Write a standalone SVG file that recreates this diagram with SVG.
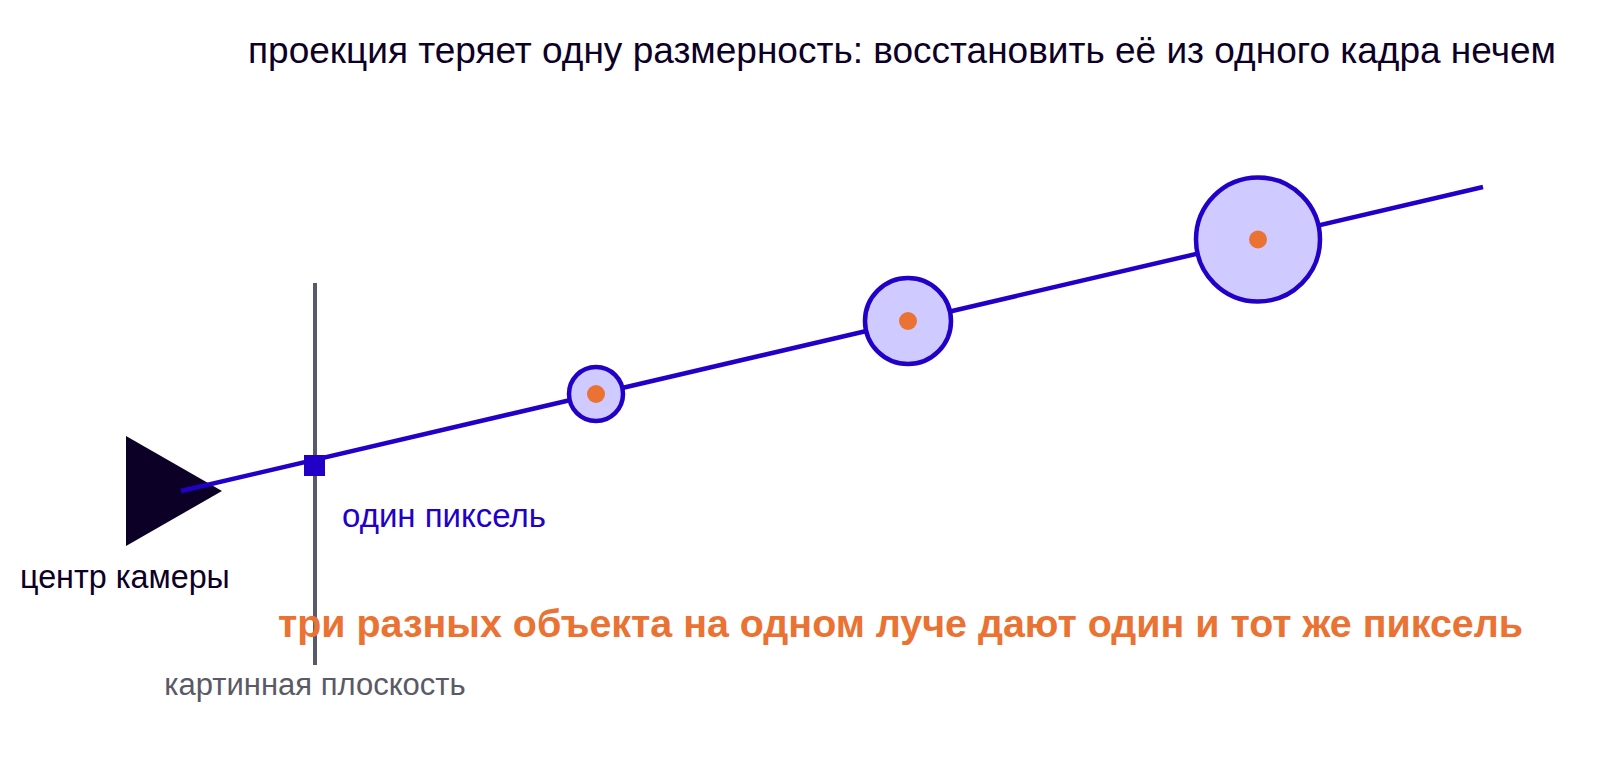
<svg xmlns="http://www.w3.org/2000/svg" width="1600" height="782" viewBox="0 0 1600 782">
<style>
text{font-family:"Liberation Sans",Arial,sans-serif}
.title{font-size:37px;fill:#0d0026}
.obj{fill:#cfcaff;stroke:#2200c8;stroke-width:4.5}
.dot{fill:#ea7233}
.ray{stroke:#2200c8;stroke-width:4.5;fill:none}
</style>
<rect width="1600" height="782" fill="#fff"/>
<text class="title" x="902" y="63" text-anchor="middle">проекция теряет одну размерность: восстановить её из одного кадра нечем</text>
<g id="plane">
<line x1="315" y1="283" x2="315" y2="665" stroke="#5a5a66" stroke-width="4"/>
<text x="315" y="695" text-anchor="middle" font-size="31" fill="#5a5a66">картинная плоскость</text>
</g>
<g id="camera">
<polygon points="126,436 126,546 222,491" fill="#0d0026"/>
<text x="20" y="588" font-size="32.3" fill="#0d0026">центр камеры</text>
</g>
<g id="connectors">
<line class="ray" x1="181" y1="491" x2="1483" y2="187"/>
</g>
<g id="pixel">
<rect x="304" y="455" width="21" height="21" fill="#2200c8"/>
<text x="342" y="527" font-size="33" fill="#2200c8">один пиксель</text>
</g>
<g id="obj1"><circle class="obj" cx="596" cy="394" r="27"/><circle class="dot" cx="596" cy="394" r="9"/></g>
<g id="obj2"><circle class="obj" cx="908" cy="321" r="43"/><circle class="dot" cx="908" cy="321" r="9"/></g>
<g id="obj3"><circle class="obj" cx="1258" cy="239.5" r="62"/><circle class="dot" cx="1258" cy="239.5" r="9"/></g>
<text x="900.5" y="637" text-anchor="middle" font-size="39.4" font-weight="bold" fill="#ea7233">три разных объекта на одном луче дают один и тот же пиксель</text>
</svg>
